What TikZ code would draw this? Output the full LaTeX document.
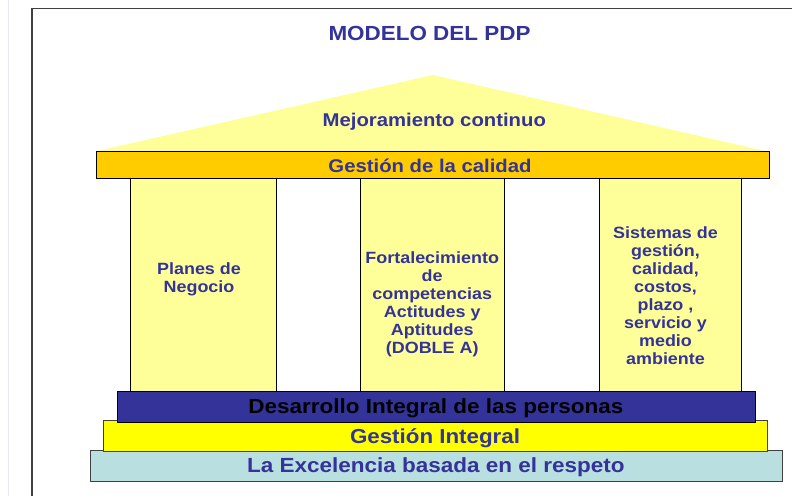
\documentclass[tikz,border=0pt]{standalone}
\usepackage{fontspec}
\setmainfont{Liberation Sans}[FakeStretch=1.1]
\definecolor{blueT}{HTML}{333399}
\definecolor{roofY}{HTML}{FFFF99}
\definecolor{goldY}{HTML}{FFCC00}
\definecolor{yelB}{HTML}{FFFF00}
\definecolor{cyanL}{HTML}{B9DFE1}
\definecolor{frameC}{HTML}{404040}
\definecolor{faintC}{HTML}{E8E8F4}
\tikzset{
  bandbox/.style={draw=black, line width=0.9pt},
  pillarbox/.style={fill=roofY, draw=black, line width=0.8pt},
  lbl/.style={inner sep=0pt, text=blueT, font=\bfseries},
  plbl/.style={inner sep=0pt, text=blueT, align=center, anchor=north,
    font=\bfseries\fontsize{16.3pt}{18pt}\selectfont},
}
\begin{document}
\begin{tikzpicture}[x=1pt,y=-1pt]
\useasboundingbox (0,0) rectangle (792,496);
% frame
\draw[faintC, line width=0.8pt] (8.5,0) -- (8.5,496);
\draw[frameC, line width=1.2pt] (32,496) -- (32,8.5) -- (792,8.5);
% title
\node[lbl, anchor=base, font=\bfseries\fontsize{20.4pt}{24pt}\selectfont] (title) at (429.5,40.7) {MODELO DEL PDP};
% roof
\fill[roofY] (97,151) -- (433,75) -- (765,151) -- cycle;
\node[lbl, anchor=base, font=\bfseries\fontsize{18.45pt}{22pt}\selectfont] (mejora) at (434.3,126.7) {Mejoramiento continuo};
% pillars
\draw[pillarbox] (130,178.5) rectangle (276,391.3);
\draw[pillarbox] (360.7,178.5) rectangle (504,391.3);
\draw[pillarbox] (599,178.5) rectangle (741,391.3);
% quality bar
\draw[bandbox, fill=goldY] (96.5,151) rectangle (769,178.5);
\node[lbl, anchor=base, font=\bfseries\fontsize{18.45pt}{22pt}\selectfont] (calidad) at (430,172.3) {Gestión de la calidad};
% pillar texts
\node[plbl] (planes) at (199,262.8) {Planes de\\Negocio};
\node[plbl] (fortal) at (432.2,251.8) {Fortalecimiento\\de\\competencias\\Actitudes y\\Aptitudes\\(DOBLE A)};
\node[plbl] (sistemas) at (665.5,226.8) {Sistemas de\\gestión,\\calidad,\\costos,\\plazo ,\\servicio y\\medio\\ambiente};
% base bands
\draw[draw=frameC, line width=0.9pt, fill=cyanL] (90,450) rectangle (782.7,481);
\draw[draw=frameC, line width=0.9pt, fill=yelB] (103.7,420.7) rectangle (767.7,451.7);
\draw[bandbox, fill=blueT] (117,391.3) rectangle (755.7,422.3);
\node[inner sep=0pt, anchor=base, text=black, font=\bfseries\fontsize{20.45pt}{24pt}\selectfont] (desarrollo) at (435.8,413.7) {Desarrollo Integral de las personas};
\node[lbl, anchor=base, font=\bfseries\fontsize{20.3pt}{24pt}\selectfont] (integral) at (435,443.3) {Gestión Integral};
\node[lbl, anchor=base, font=\bfseries\fontsize{20.45pt}{24pt}\selectfont] (excelencia) at (435.9,472.3) {La Excelencia basada en el respeto};
\end{tikzpicture}
\end{document}
